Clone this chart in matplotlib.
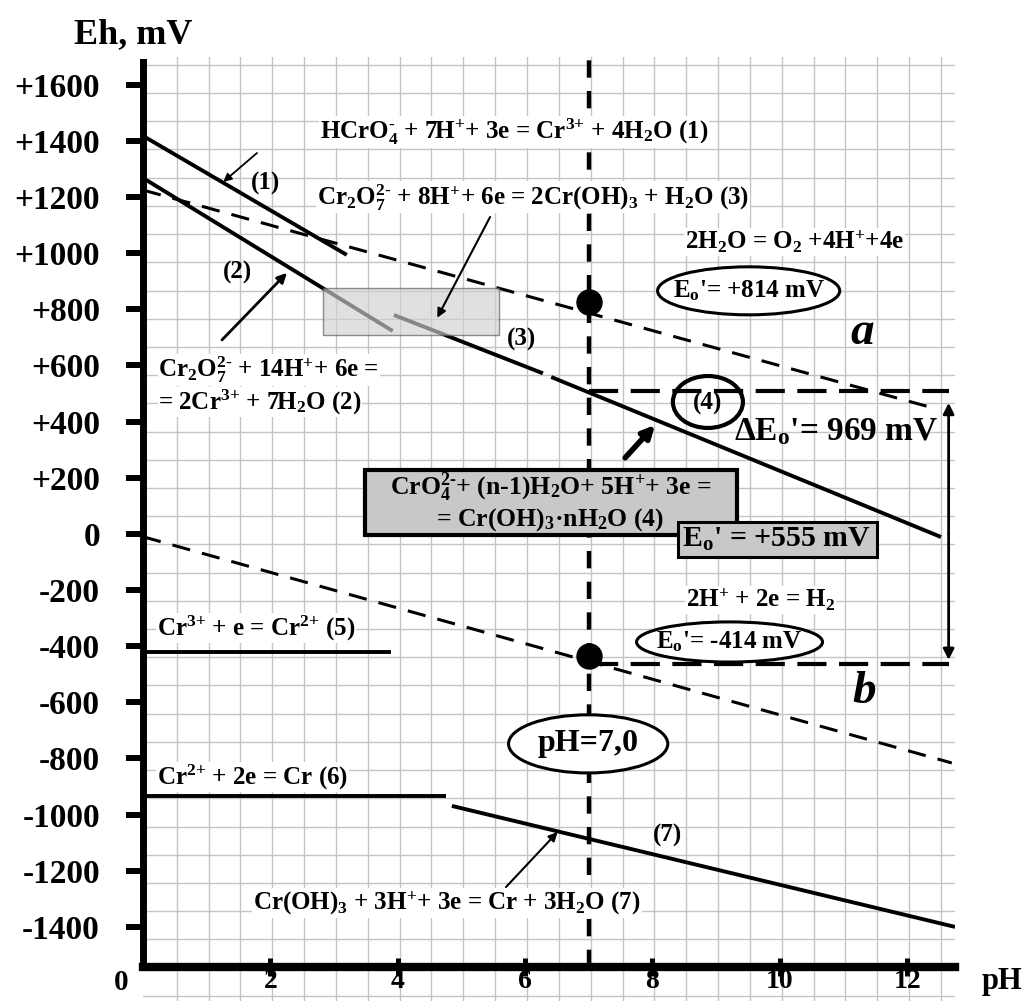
import numpy as np
import matplotlib.pyplot as plt
from matplotlib.patches import Rectangle, Ellipse

# ---- fonts: bold Times-like everywhere ----
plt.rcParams['font.family'] = ['Liberation Serif', 'DejaVu Serif']
plt.rcParams['font.weight'] = 'bold'
plt.rcParams['mathtext.fontset'] = 'custom'
plt.rcParams['mathtext.rm'] = 'Liberation Serif:bold'
plt.rcParams['mathtext.it'] = 'Liberation Serif:bold:italic'
plt.rcParams['mathtext.bf'] = 'Liberation Serif:bold'
plt.rcParams['mathtext.default'] = 'rm'

# ---- data (pH, Eh in mV) ----
ph_ticks = [2, 4, 6, 8, 10, 12]
eh_ticks = [1600, 1400, 1200, 1000, 800, 600, 400, 200, 0,
            -200, -400, -600, -800, -1000, -1200, -1400]

ph_1, eh_1 = [0, 3.2], [1418, 994]          # HCrO4- -> Cr3+
ph_2, eh_2 = [0, 3.92], [1268, 723]         # Cr2O7 2- -> Cr3+
ph_3, eh_3 = [3.94, 6.28], [780, 572]       # Cr2O7 2- -> Cr(OH)3
ph_4, eh_4 = [6.41, 12.53], [559, -11]      # CrO4 2- -> Cr(OH)3.nH2O
ph_5, eh_5 = [0, 3.9], [-420, -420]         # Cr3+ -> Cr2+
ph_6, eh_6 = [0, 4.75], [-933, -933]        # Cr2+ -> Cr
ph_7, eh_7 = [4.85, 12.75], [-969, -1400]   # Cr(OH)3 -> Cr

ph_o2, eh_o2 = [0, 12.4], [1225, 449]       # water oxidation (a)
ph_h2, eh_h2 = [0, 12.7], [-10, -816]       # hydrogen (b)
ph_lvl, eh_upper, eh_lower = [7, 12.65], 510, -465
ph_neutral = 7.0
eh_dots = [826, -435]
delta_top, delta_bot = 467, -449

# ---- figure ----
fig = plt.figure(figsize=(10.26, 10.01), dpi=100)
ax = fig.add_axes([143 / 1026, 0, 812 / 1026, 944 / 1001])
ax.set_xlim(0, 12.75)
ax.set_ylim(-1664, 1699)
y_axis = -1543

# graph paper
for gx in np.arange(0.53, 12.6, 0.5):
    ax.axvline(gx, color='#c4c4c4', lw=1.0, zorder=0)
for gy in np.arange(1671, -1700, -100.5):
    ax.axhline(gy, color='#c4c4c4', lw=1.0, zorder=0)

# spines / ticks
for s in ['top', 'right']:
    ax.spines[s].set_visible(False)
ax.spines['left'].set_linewidth(5)
ax.spines['left'].set_bounds(y_axis, 1681)
ax.spines['bottom'].set_position(('data', y_axis))
ax.spines['bottom'].set_linewidth(6)
ax.spines['bottom'].set_bounds(0, 12.75)

ax.set_yticks(eh_ticks)
ax.set_yticklabels([f'+{v}' if v > 0 else str(v) for v in eh_ticks])
ax.set_xticks(ph_ticks)
ax.set_xticklabels([str(v) for v in ph_ticks])
ax.tick_params(axis='y', direction='out', length=12, width=4.3, pad=19,
               labelsize=24)
ax.tick_params(axis='x', direction='inout', length=13, width=3.6, pad=-5,
               labelsize=20)
for lab in ax.get_xticklabels() + ax.get_yticklabels():
    lab.set_fontweight('bold')

# solid lines
kw = dict(color='black', lw=2.8, solid_capstyle='butt', zorder=3)
for xs, ys in [(ph_1, eh_1), (ph_2, eh_2), (ph_3, eh_3), (ph_4, eh_4),
               (ph_5, eh_5), (ph_6, eh_6), (ph_7, eh_7)]:
    ax.plot(xs, ys, **kw)

# water stability lines
ax.plot(ph_o2, eh_o2, color='black', lw=2.2, dashes=(6, 4), zorder=3)
ax.plot(ph_h2, eh_h2, color='black', lw=2.2, dashes=(6, 4), zorder=3)
ax.plot(ph_lvl, [eh_upper] * 2, color='black', lw=3, dashes=(7, 3), zorder=3)
ax.plot(ph_lvl, [eh_lower] * 2, color='black', lw=3, dashes=(7, 3), zorder=3)
ax.plot([ph_neutral] * 2, [y_axis, 1699], color='black', lw=3.2,
        dashes=(3.9, 3.0), zorder=2)
ax.plot([ph_neutral] * 2, eh_dots, 'o', color='black', ms=18, zorder=6)

# gray box over lines 2/3
ax.add_patch(Rectangle((2.83, 709), 2.76, 167, facecolor='#d0d0d0',
                       edgecolor='#555555', lw=1, alpha=0.65, zorder=4))

M = r'\text{-}'   # short hyphen for charges
TXT = dict(fontsize=18, fontweight='bold', zorder=7,
           bbox=dict(facecolor='white', edgecolor='none', pad=0.5))

ax.text(2.78, 1432, r"HCrO$_4^{" + M + r"}$ + 7H$^{+}$+ 3e = Cr$^{3{+}}$ + 4H$_2$O (1)",
        va='center', ha='left', **TXT)
ax.text(2.73, 1200, r"Cr$_2$O$_7^{2" + M + r"}$ + 8H$^{+}$+ 6e = 2Cr(OH)$_3$ + H$_2$O (3)",
        va='center', ha='left', **TXT)
ax.text(8.51, 1040, r"2H$_2$O = O$_2$ +4H$^{+}$+4e", va='center', ha='left', **TXT)
ax.text(0.24, 584, r"Cr$_2$O$_7^{2" + M + r"}$ + 14H$^{+}$+ 6e =", va='center', ha='left', **TXT)
ax.text(0.24, 470, r"= 2Cr$^{3{+}}$ + 7H$_2$O (2)", va='center', ha='left', **TXT)
ax.text(9.70, -235, r"2H$^{+}$ + 2e = H$_2$", va='center', ha='center', **TXT)
ax.text(0.22, -335, r"Cr$^{3{+}}$ + e = Cr$^{2{+}}$ (5)", va='center', ha='left', **TXT)
ax.text(0.22, -866, r"Cr$^{2{+}}$ + 2e = Cr (6)", va='center', ha='left', **TXT)
ax.text(1.73, -1315, r"Cr(OH)$_3$ + 3H$^{+}$+ 3e = Cr + 3H$_2$O (7)",
        va='center', ha='left', **TXT)

NUM = dict(fontsize=18, fontweight='bold', ha='center', va='center', zorder=7)
ax.text(1.92, 1250, "(1)", **NUM)
ax.text(1.48, 930, "(2)", **NUM)
ax.text(5.95, 691, "(3)", **NUM)
ax.text(8.24, -1076, "(7)", **NUM)
ax.text(8.87, 466, "(4)", **NUM)
ax.add_patch(Ellipse((8.87, 470), 1.10, 185, facecolor='none',
                     edgecolor='black', lw=3, zorder=5))

# ellipses with E0'
for (cx, cy, w, h, s, fs) in [(9.51, 866, 2.86, 171, r"E$_\mathrm{o}$'= +814 mV", 18),
                              (9.21, -385, 2.92, 143, r"E$_\mathrm{o}$'= -414 mV", 18),
                              (6.99, -748, 2.50, 207, "pH=7,0", 23)]:
    ax.add_patch(Ellipse((cx, cy), w, h, facecolor='white', edgecolor='black',
                         lw=2.2, zorder=5))
    ax.text(cx, cy, s, fontsize=fs, fontweight='bold', ha='center',
            va='center', zorder=7)

# box for reaction (4)
ax.add_patch(Rectangle((3.49, -4), 5.84, 232, facecolor='#c8c8c8',
                       edgecolor='black', lw=3, zorder=5))
ax.text(6.40, 164, r"CrO$_4^{2" + M + r"}$+ (n-1)H$_2$O+ 5H$^{+}$+ 3e =", fontsize=18.5,
        fontweight='bold', ha='center', va='center', zorder=7)
ax.text(6.40, 50, r"= Cr(OH)$_3$·nH$_2$O (4)", fontsize=18.5,
        fontweight='bold', ha='center', va='center', zorder=7)
ax.add_patch(Rectangle((8.40, -82), 3.12, 125, facecolor='#c8c8c8',
                       edgecolor='black', lw=2.2, zorder=5))
ax.text(9.95, -21, r"E$_\mathrm{o}$' = +555 mV", fontsize=21.5,
        fontweight='bold', ha='center', va='center', zorder=7)

ax.text(10.89, 363, r"ΔE$_\mathrm{o}$'= 969 mV", fontsize=24,
        fontweight='bold', ha='center', va='center', zorder=7)
ax.text(11.29, 716, "a", fontsize=34, fontweight='bold', style='italic',
        ha='center', va='center', zorder=7)
ax.text(11.32, -563, "b", fontsize=34, fontweight='bold', style='italic',
        ha='center', va='center', zorder=7)

# arrows
def arrow(tail, head, lw=1.5, ms=14, style='-|>'):
    ax.annotate('', xy=head, xytext=tail, zorder=6,
                arrowprops=dict(arrowstyle=style, color='black', lw=lw,
                                mutation_scale=ms, shrinkA=0, shrinkB=0))

arrow((1.79, 1357), (1.26, 1254), lw=1.3, ms=12)
arrow((1.24, 691), (2.26, 930), lw=2.0, ms=14)
arrow((5.45, 1129), (4.62, 770), lw=1.5, ms=13)
arrow((7.57, 271), (8.04, 388), lw=4.0, ms=18)
arrow((5.70, -1258), (6.51, -1062), lw=1.5, ms=13)
arrow((12.65, 0), (12.65, delta_top), lw=2.0, ms=16)
arrow((12.65, 0), (12.65, delta_bot), lw=2.0, ms=16)

# axis captions
fig.text(133 / 1026, 1 - 35 / 1001, "Eh, mV", fontsize=26, fontweight='bold',
         ha='center', va='center')
fig.text(1002 / 1026, 1 - 982 / 1001, "pH", fontsize=22, fontweight='bold',
         ha='center', va='center')
fig.text(121 / 1026, 1 - 982 / 1001, "0", fontsize=21, fontweight='bold',
         ha='center', va='center')

fig.savefig('out.png', dpi=100)
